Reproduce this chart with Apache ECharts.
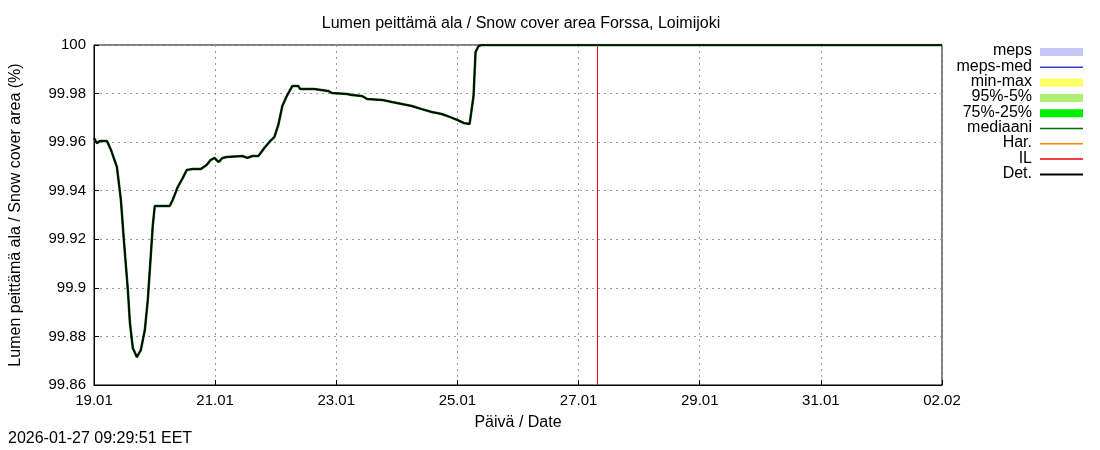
<!DOCTYPE html>
<html><head><meta charset="utf-8">
<script src="https://cdn.jsdelivr.net/npm/echarts@6/dist/echarts.min.js"></script>
<style>body{margin:0}#c{width:1100px;height:450px}</style></head>
<body><div id="c"></div>
<script>
// days since 19.01 00:00
const days = [0,0.049,0.099,0.214,0.280,0.378,0.444,0.493,0.559,0.592,0.641,0.707,0.773,0.839,0.888,0.938,0.970,1.003,1.250,1.299,1.382,1.464,1.530,1.628,1.760,1.859,1.924,1.990,2.056,2.122,2.188,2.451,2.533,2.615,2.714,2.812,2.911,2.977,3.043,3.109,3.191,3.273,3.372,3.405,3.635,3.668,3.865,3.931,4.178,4.260,4.424,4.507,4.753,4.918,5.082,5.247,5.411,5.576,5.740,5.872,6.003,6.102,6.201,6.266,6.299,6.349,6.398,14];
const det = [99.9617,99.9596,99.9605,99.9605,99.9568,99.9498,99.9362,99.9197,99.8991,99.8859,99.8752,99.8715,99.8744,99.8826,99.8950,99.9135,99.9255,99.9337,99.9337,99.9362,99.9415,99.9452,99.9485,99.9489,99.9489,99.9506,99.9526,99.9535,99.9518,99.9535,99.9539,99.9543,99.9535,99.9543,99.9543,99.9576,99.9605,99.9621,99.9671,99.9749,99.9794,99.9831,99.9831,99.9819,99.9819,99.9815,99.9811,99.9802,99.9798,99.9794,99.9790,99.9778,99.9774,99.9765,99.9757,99.9749,99.9736,99.9724,99.9716,99.9704,99.9691,99.9679,99.9675,99.9790,99.9971,99.9996,100,100];
const tickLabels = ['19.01','21.01','23.01','25.01','27.01','29.01','31.01','02.02'];
const nowDay = 8.31;
const legendNames = ['meps','meps-med','min-max','95%-5%','75%-25%','mediaani','Har.','IL','Det.'];
const legendColors = ['#c8c8f5','#3a3ad8','#ffff66','#b0f070','#00ee00','#007000','#ff8800','#ee0000','#000000'];
const legendWidths = [8,1.5,8,8,8,1.5,1.5,1.5,2];

const pts = days.map((d,i)=>[d,det[i]]);
const graphic = [];
legendNames.forEach((n,i)=>{
  const y = 52 + i*15.3;
  graphic.push({type:'text',right:68,top:y-9,style:{text:n,font:'16px "Liberation Sans", Arial',fill:'#000',align:'right'}});
  graphic.push({type:'line',shape:{x1:1040,y1:y,x2:1083,y2:y},style:{stroke:legendColors[i],lineWidth:legendWidths[i]}});
});
graphic.push({type:'text',left:8,top:431,style:{text:'2026-01-27 09:29:51 EET',font:'16px "Liberation Sans", Arial',fill:'#000'}});

const chart = echarts.init(document.getElementById('c'));
chart.setOption({
  animation:false,
  title:{text:'Lumen peittämä ala / Snow cover area Forssa, Loimijoki',left:516,textAlign:'center',top:11,textStyle:{fontSize:16,fontWeight:'normal',fontFamily:'Liberation Sans',color:'#000'}},
  grid:{left:91,right:158,top:45,bottom:65,show:true,borderColor:'#000',borderWidth:1},
  graphic,
  xAxis:{type:'value',min:0,max:14,interval:2,name:'Päivä / Date',nameLocation:'middle',nameGap:30,
    nameTextStyle:{fontSize:16,fontFamily:'Liberation Sans',color:'#000'},
    axisLine:{lineStyle:{color:'#000'}},axisTick:{inside:true,length:5,lineStyle:{color:'#000'}},
    axisLabel:{fontSize:15,fontFamily:'Liberation Sans',color:'#000',formatter:v=>tickLabels[v/2]},
    splitLine:{show:true,lineStyle:{color:'#999',type:[2,4]}}},
  yAxis:{type:'value',min:99.86,max:100,interval:0.02,name:'Lumen peittämä ala / Snow cover area (%)',nameLocation:'middle',nameGap:70,
    nameTextStyle:{fontSize:16,fontFamily:'Liberation Sans',color:'#000'},
    axisLine:{show:true,lineStyle:{color:'#000'}},axisTick:{inside:true,length:5,lineStyle:{color:'#000'}},
    axisLabel:{fontSize:15,fontFamily:'Liberation Sans',color:'#000',formatter:v=>String(+v.toFixed(2))},
    splitLine:{show:true,lineStyle:{color:'#999',type:[2,4]}}},
  series:[
    {type:'line',data:pts,symbol:'none',lineStyle:{color:'#006000',width:2.5},
     markLine:{silent:true,symbol:'none',label:{show:false},lineStyle:{color:'#ee0000',width:1,type:'solid'},data:[{xAxis:nowDay}]}},
    {type:'line',data:pts,symbol:'none',lineStyle:{color:'#000',width:1.5}}
  ]
});
</script></body></html>
